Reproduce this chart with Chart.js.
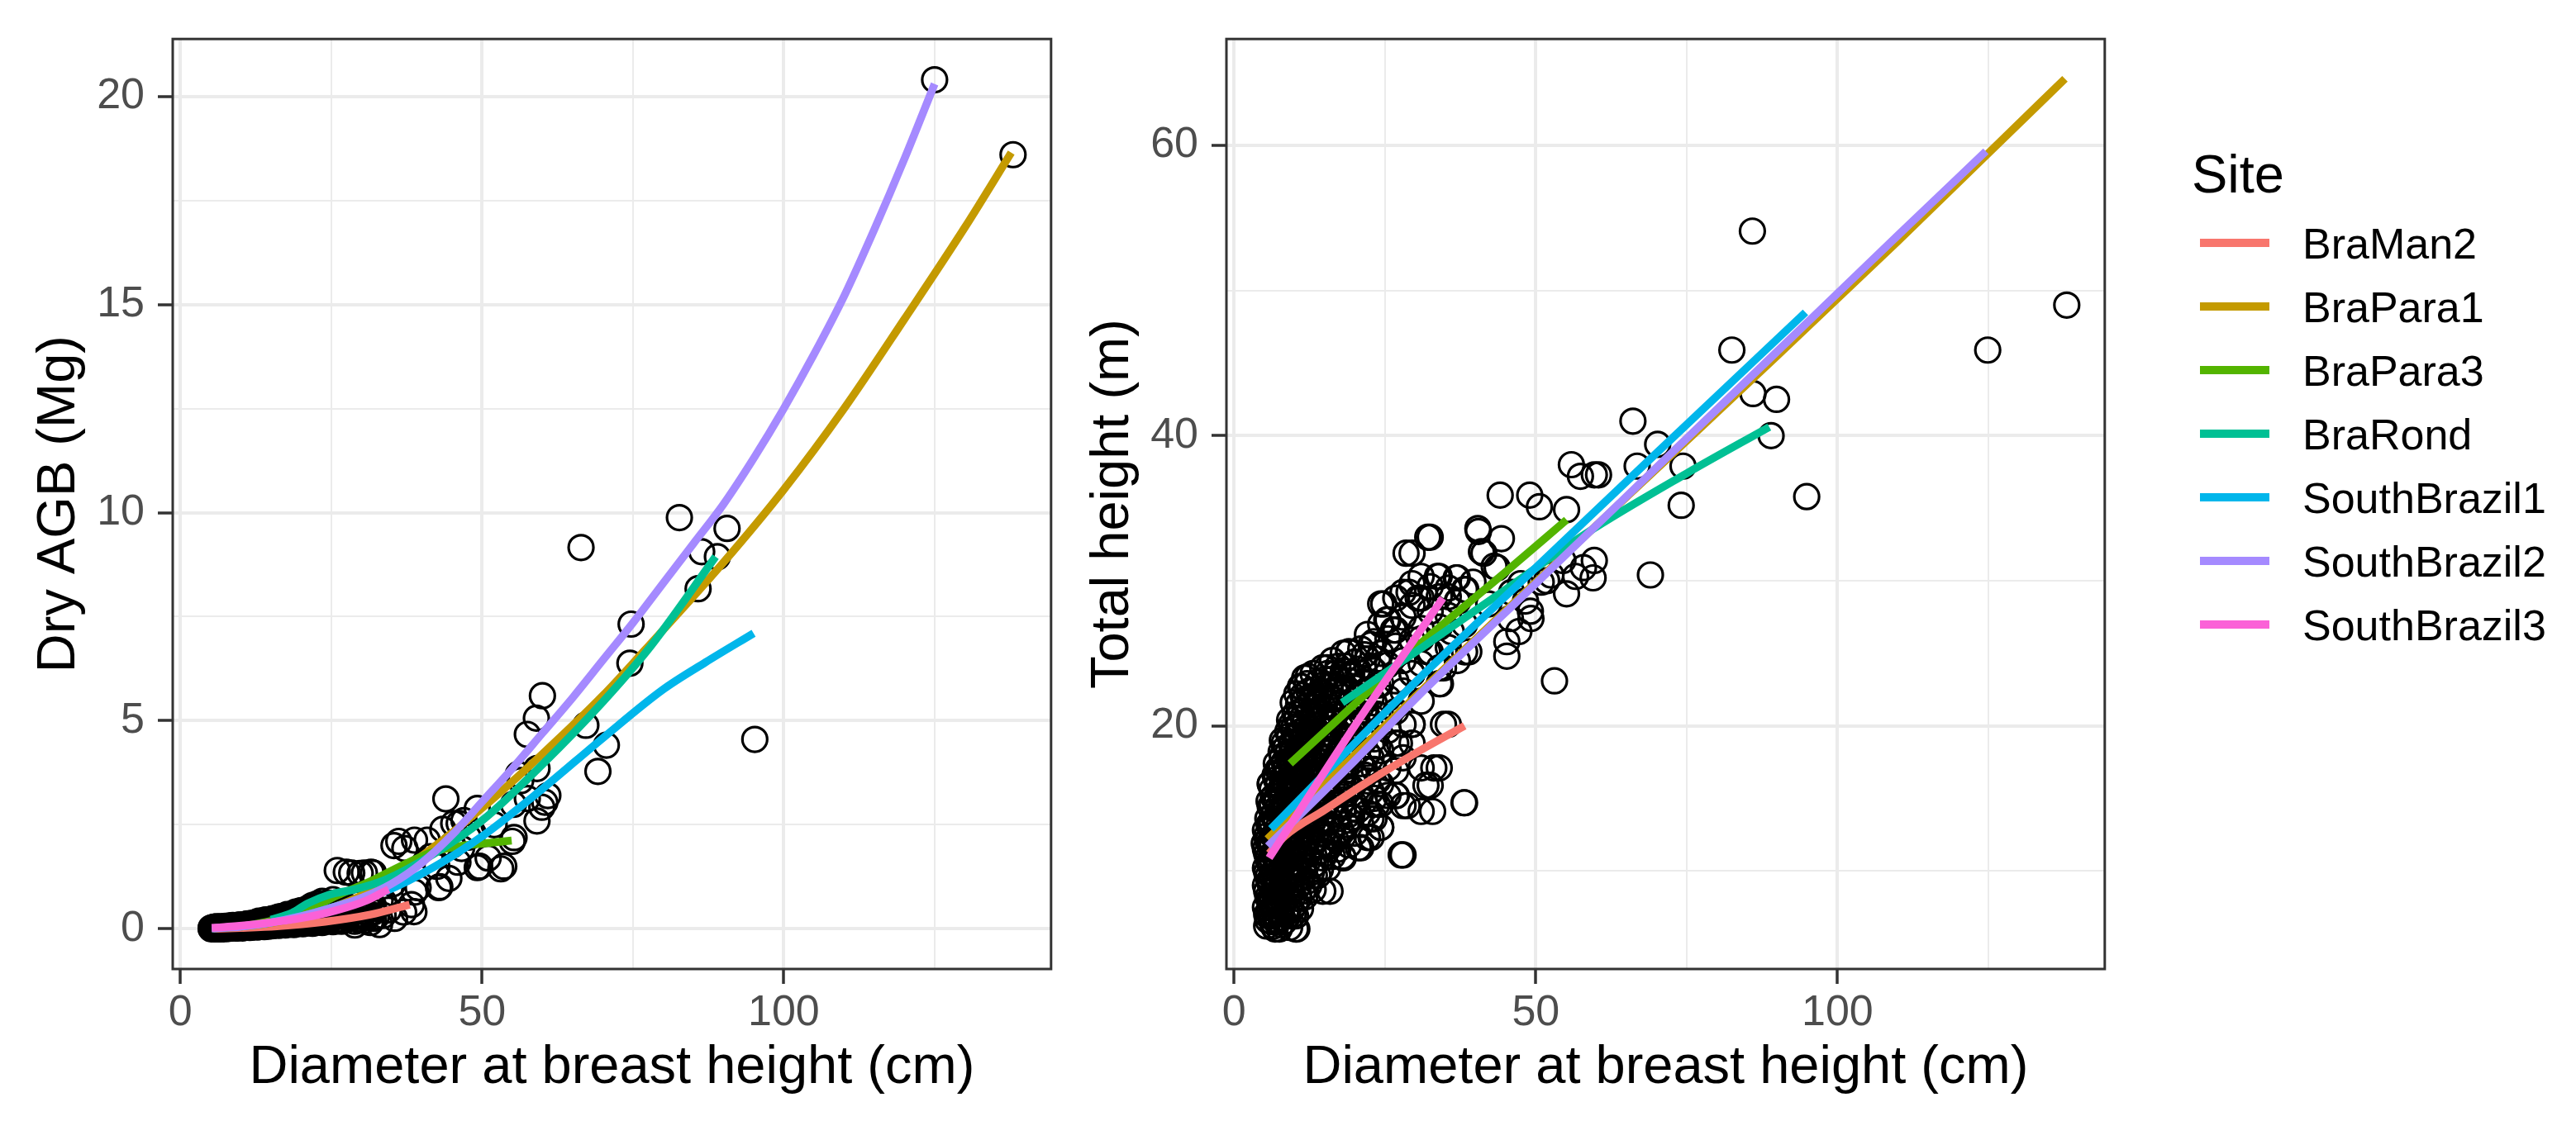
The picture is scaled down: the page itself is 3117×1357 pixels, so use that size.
<!DOCTYPE html>
<html>
<head>
<meta charset="utf-8">
<script src="https://cdn.jsdelivr.net/npm/chart.js@4.4.1/dist/chart.umd.min.js"></script>
<style>
html,body{margin:0;padding:0;background:#fff;}
#wrap{position:relative;width:3117px;height:1357px;overflow:hidden;font-family:'Liberation Sans',Arial,Helvetica,sans-serif;}
#wrap canvas{position:absolute;top:0;}
#cAgb{left:0;}
#cHeight{left:1275px;}
.lg-title{position:absolute;left:2652px;top:178px;font-size:65px;line-height:1;color:#000;}
.lg-key{position:absolute;left:2662px;width:84px;height:9.5px;}
.lg-lab{position:absolute;left:2786px;font-size:52px;line-height:1;color:#000;white-space:nowrap;}
</style>
</head>
<body>
<div id="wrap">
  <canvas id="cAgb" width="1290" height="1357"></canvas>
  <canvas id="cHeight" width="1290" height="1357"></canvas>
  <div id="legend"></div>
</div>
<script>
// ---- sites ----
const siteNames=['BraMan2','BraPara1','BraPara3','BraRond','SouthBrazil1','SouthBrazil2','SouthBrazil3'];
const siteColors=['#F8766D','#C49A00','#53B400','#00C094','#00B6EB','#A58AFF','#FB61D7'];

// ---- axes ----
const xGrid=[0,25,50,75,100,125], xMajor=[0,50,100];
const agbGrid=[0,2.5,5,7.5,10,12.5,15,17.5,20], agbMajor=[0,5,10,15,20];
const hGrid=[10,20,30,40,50,60], hMajor=[20,40,60];

// ---- observed trees, left panel: [dbh, dry AGB] ----
const agbTrees=[
  [138.0,18.6],[125.0,20.4],[95.2,4.55],[90.6,9.62],[89.0,8.94],[86.4,9.06],[85.8,8.17],[82.7,9.88],
  [74.7,7.32],[74.5,6.38],[70.6,4.41],[69.2,3.78],[67.2,4.89],[66.4,9.16],[60.0,5.60],[59.0,5.06],
  [57.5,4.67],[59.1,3.85],[56.0,3.71],[56.4,3.56],[57.5,3.13],[60.9,3.20],[60.4,3.04],[59.9,2.92],
  [59.1,2.59],[55.0,2.10],[55.2,2.99],[55.3,2.19],[53.6,1.50],[53.1,1.44],[49.6,1.50],[49.2,1.47],
  [49.2,2.89],[44.0,3.12],[45.3,2.53],[46.2,2.53],[43.5,2.39],[47.7,2.20],[46.6,1.93],[45.1,2.02],
  [44.5,1.21],[43.0,1.01],[42.8,0.99],[39.4,0.99],[41.4,1.73],[36.2,2.10],[38.8,2.13],[40.9,2.13],
  [37.2,1.93],[35.4,2.00],[42.5,1.50],[47.0,2.60],[48.5,2.30],[46.0,1.60],[52.0,2.50],[51.0,1.70],
  [26.0,1.40],[27.5,1.36],[28.4,1.34],[29.8,1.33],[30.5,1.34],[31.6,1.36],[32.0,1.34],
  [38.3,0.58],[38.8,0.88],[38.7,0.41],[35.2,1.08],[33.1,0.68],[33.6,0.32],[31.5,0.15],[28.9,0.09],
  [30.5,0.20],[32.5,0.30],[34.5,0.45],[33.0,0.10],[35.5,0.25],[37.0,0.40],[33.7,0.65],[32.0,0.48]
];
// dense band of small trees: [dbh, [dry AGB values]]
const agbCloud=[
  [5.1,[0.00,0.02]],[5.4,[0.01,0.03]],[5.6,[0.00,0.04]],[5.8,[0.00,0.02,0.04]],[6.0,[0.01,0.05]],
  [6.2,[0.01,0.03]],[6.4,[0.00,0.04]],[6.6,[0.00,0.02,0.05]],[6.8,[0.01,0.04]],[7.0,[0.01,0.03]],
  [7.2,[0.00,0.05]],[7.5,[0.02,0.04,0.06]],[7.7,[0.01,0.05]],[8.0,[0.01,0.03,0.05]],[8.2,[0.02,0.07]],
  [8.5,[0.02,0.05,0.07]],[8.7,[0.03,0.08]],[9.0,[0.03,0.05]],[9.2,[0.02,0.07]],[9.5,[0.02,0.04,0.08]],
  [9.7,[0.03,0.09]],[10.0,[0.04,0.06,0.09]],[10.3,[0.02,0.08]],[10.6,[0.03,0.06,0.10]],[10.9,[0.04,0.11]],
  [11.2,[0.05,0.08,0.12]],[11.5,[0.03,0.10]],[11.8,[0.04,0.07,0.13]],[12.1,[0.05,0.11]],
  [12.4,[0.06,0.10,0.15]],[12.7,[0.04,0.13]],[13.0,[0.05,0.09,0.14,0.18]],[13.3,[0.07,0.16]],
  [13.6,[0.07,0.12,0.17]],[13.9,[0.05,0.14,0.20]],[14.2,[0.08,0.11,0.16,0.21]],[14.5,[0.06,0.18]],
  [14.8,[0.09,0.14,0.19]],[15.1,[0.07,0.16,0.23]],[15.4,[0.08,0.12,0.18,0.24]],[15.7,[0.10,0.20]],
  [16.0,[0.10,0.15,0.21,0.26]],[16.3,[0.08,0.18,0.28]],[16.7,[0.11,0.17,0.23,0.29]],[17.0,[0.13,0.25]],
  [17.4,[0.09,0.14,0.20,0.27,0.31]],[17.7,[0.11,0.23,0.34]],[18.1,[0.12,0.18,0.24,0.33]],[18.4,[0.15,0.28]],
  [18.8,[0.10,0.16,0.22,0.30,0.37]],[19.1,[0.13,0.26,0.40]],[19.5,[0.13,0.20,0.27,0.35,0.40]],
  [19.9,[0.16,0.30,0.43]],[20.3,[0.12,0.18,0.25,0.33,0.44]],[20.7,[0.14,0.28,0.40]],
  [21.1,[0.15,0.22,0.30,0.38,0.48]],[21.5,[0.18,0.33,0.52]],[21.9,[0.13,0.20,0.28,0.36,0.45,0.56]],
  [22.3,[0.16,0.31,0.50]],[22.7,[0.17,0.25,0.34,0.43,0.60]],[23.1,[0.20,0.38,0.55]],
  [23.5,[0.15,0.23,0.31,0.42,0.52,0.66]],[24.0,[0.18,0.34,0.58]],[24.4,[0.19,0.28,0.38,0.50,0.62]],
  [24.9,[0.22,0.42,0.55]],[25.3,[0.17,0.26,0.36,0.47,0.70]],[25.8,[0.20,0.40,0.62]],
  [26.2,[0.22,0.31,0.43,0.58]],[26.7,[0.18,0.35,0.50]],[27.2,[0.20,0.29,0.40,0.55]],[27.7,[0.30,0.45]],
  [28.3,[0.25,0.35,0.50]],[28.9,[0.18,0.42]],[29.5,[0.22,0.33,0.46,0.60]],[30.1,[0.30,0.52]],
  [30.7,[0.28,0.42]],[31.3,[0.36,0.60]],[32.0,[0.25,0.40,0.55]]
];

// ---- observed trees, right panel: [dbh, total height] ----
const hTrees=[
  [138.0,49.0],[124.9,45.9],[85.9,54.1],[82.5,45.9],[86.0,42.9],[89.9,42.5],[89.0,40.0],[94.9,35.8],
  [66.1,41.0],[66.8,37.9],[70.2,39.4],[74.4,37.9],[74.1,35.2],[69.0,30.4],[55.9,38.0],[57.4,37.2],
  [59.7,37.3],[60.4,37.3],[55.1,34.9],[49.0,35.9],[50.6,35.1],[44.1,35.9],[40.5,33.4],[41.4,31.9],
  [44.3,32.9],[32.1,33.0],[28.5,31.9],[43.6,30.9],[59.7,31.4],[57.9,30.9],[55.1,29.1],[59.5,30.2],
  [53.1,23.1],[45.2,25.8],[45.2,24.8],[49.2,27.4],[51.8,30.0],[48.3,28.6],[54.5,31.4],[56.6,30.3],
  [40.4,33.6],[41.0,32.0],[43.1,31.0],[49.1,27.9],[50.9,29.9],[34.7,20.1],[33.1,17.1],[31.8,15.9],
  [38.1,14.7],[32.9,14.1],[28.7,14.5],[27.7,11.1],[24.3,13.0],[23.7,14.6],[26.9,15.2],[22.7,12.3],
  [24.8,28.4],[29.0,29.2],[33.7,30.3],[36.8,30.2],[38.4,29.4],[37.1,28.6],[25.3,27.3],[26.4,26.6],
  [30.5,28.8],[32.1,25.1],[29.5,23.6],[34.7,24.0],[34.2,22.9],[38.9,25.1],[27.4,18.8],[29.5,20.1],
  [22.7,13.6],[20.6,11.6],[18.0,11.0],[15.9,8.6],[13.3,9.7],[10.2,6.0],[10.2,6.9],[6.0,6.9],
  [5.0,11.9],[6.0,16.0],[9.7,18.2],[11.2,22.7],[12.3,23.4],[15.4,24.0],[19.0,25.1],[21.7,16.6],
  [46.0,29.2],[47.5,29.8],[52.5,30.4],[35.5,28.9],[39.6,29.9],[42.2,28.4],[47.2,26.5],[45.8,27.4],
  [36.0,26.5],[31.0,26.0]
];
// dense cloud of small trees: [dbh, [height values]]
const hCloud=[
  [5.2,[7.5,9.0,10.2,11.5,12.8]],[5.4,[6.2,7.0,8.6,9.9,11.2,12.4]],[5.6,[6.6,8.2,9.6,10.9,12.1,13.6]],
  [5.8,[7.2,8.0,9.3,10.6,11.9,13.2,14.8]],[6.0,[6.9,7.8,9.1,10.4,11.7,13.0,14.4,16.0]],
  [6.3,[6.5,7.1,8.3,9.6,10.8,12.0,13.3,14.6,15.6]],[6.5,[6.2,7.4,8.6,9.9,11.2,12.4,13.8,15.1]],
  [6.8,[6.0,7.0,8.2,9.5,10.9,12.2,13.6,14.9,16.6]],[7.0,[6.5,7.9,9.3,10.7,12.0,13.3,14.7,16.3,17.4]],
  [7.3,[6.6,7.7,9.0,10.3,11.7,13.0,14.4,15.9,17.0]],[7.5,[6.0,7.2,8.5,9.8,11.4,12.7,14.1,15.5,16.8]],
  [7.8,[6.3,7.5,8.8,10.2,11.6,12.9,14.3,15.7,17.2,18.2]],[8.0,[6.8,8.0,9.4,10.8,12.2,13.5,15.0,16.4,17.9,19.0]],
  [8.3,[6.5,7.8,9.1,10.5,11.9,13.2,14.7,16.1,17.5,18.8]],[8.6,[7.3,8.7,10.1,11.6,13.0,14.3,15.8,17.2,18.5]],
  [8.9,[6.9,8.3,9.7,11.1,12.5,13.9,15.3,16.8,18.1,19.6]],[9.2,[6.1,7.6,9.0,10.5,11.9,13.4,14.8,16.1,17.6,19.3,20.4]],
  [9.5,[7.3,8.6,10.0,11.5,12.9,14.3,15.8,17.2,18.7,20.1]],[9.8,[7.0,8.3,9.7,11.2,12.6,14.0,15.4,16.9,18.3,19.8,21.6]],
  [10.1,[7.7,9.2,10.6,12.0,13.5,14.9,16.3,17.8,19.2,20.8]],[10.4,[6.0,8.8,10.3,11.8,13.2,14.6,16.0,17.5,18.9,20.5,22.2]],
  [10.7,[8.1,9.8,11.3,12.7,14.2,15.6,17.1,18.5,20.0,21.5]],[11.0,[7.4,9.5,11.0,12.4,13.9,15.3,16.7,18.1,19.6,21.0,22.7]],
  [11.4,[8.6,10.3,11.9,13.4,14.8,16.3,17.7,19.2,20.6,22.1]],[11.7,[8.2,10.0,11.6,13.1,14.5,15.9,17.4,18.8,20.2,21.8,23.3]],
  [12.1,[9.3,11.1,12.6,14.1,15.6,17.0,18.4,19.9,21.4,22.9]],[12.4,[9.0,10.8,12.3,13.8,15.2,16.6,18.0,19.5,20.9,22.4]],
  [12.8,[9.9,11.6,13.2,14.6,16.1,17.5,19.0,20.4,21.7]],[13.1,[8.7,10.4,12.0,13.4,14.9,16.4,17.8,19.2,20.7,22.0,23.6]],
  [13.5,[10.5,12.2,13.7,15.2,16.7,18.1,19.6,21.0,22.5]],[13.9,[9.7,11.3,12.8,14.3,15.7,17.2,18.6,20.0,21.5,23.0]],
  [14.3,[10.1,11.8,13.5,15.0,16.5,17.9,19.4,20.8,22.3]],[14.7,[8.6,10.9,12.5,14.0,15.5,17.0,18.4,19.9,21.3,22.8,24.0]],
  [15.1,[11.2,12.9,14.6,16.0,17.5,18.9,20.3,21.8,23.2]],[15.5,[10.2,11.8,13.3,16.3,17.8,19.2,20.6,22.1,23.6]],
  [15.9,[11.7,13.5,15.2,17.0,18.4,19.8,21.3,22.7]],[16.3,[11.0,12.8,14.6,16.0,18.9,20.3,21.8,23.2,24.5]],
  [16.8,[12.2,14.1,15.8,17.6,19.2,20.8,22.3,23.6]],[17.2,[11.5,13.6,15.4,17.3,19.6,21.1,22.7,24.1]],
  [17.7,[12.8,14.6,16.4,18.1,19.9,21.6,23.1]],[18.1,[10.9,12.4,14.9,16.8,18.6,20.4,22.3,23.8,25.0]],
  [18.6,[13.2,15.3,17.2,19.1,20.9,22.6,24.1]],[19.0,[11.8,13.9,15.8,17.9,19.7,21.5,23.1,25.1]],
  [19.5,[13.7,15.7,17.8,19.8,21.7,23.6]],[20.0,[12.6,14.6,16.6,18.5,20.4,22.6,24.4]],
  [20.5,[14.2,16.4,18.3,20.2,22.1,23.9]],[21.0,[11.6,13.2,15.3,17.4,19.3,21.3,23.3,25.3]],
  [21.6,[14.8,17.0,19.0,21.1,23.0,24.9]],[22.1,[12.3,14.0,16.2,18.1,20.6,22.5,24.6,26.3]],
  [22.7,[15.5,17.8,19.9,21.9,24.0,25.6]],[23.2,[13.6,15.0,17.0,19.1,21.6,23.8,25.8]],
  [23.8,[16.2,18.6,20.8,22.8,24.6]],[24.3,[13.0,14.6,16.0,18.3,20.7,22.9,25.0,27.0,28.4]],
  [25.5,[15.2,17.1,19.7,21.9,24.2,26.0,27.3]],[26.8,[15.2,16.9,18.8,21.0,23.1,25.5,26.6,28.8]],
  [28.0,[11.1,14.5,17.8,20.1,22.4,24.5,27.5,29.2]],[29.5,[18.8,20.1,23.6,25.9,28.3,29.8,31.9]],
  [31.0,[14.1,17.1,21.7,24.3,26.7,28.8,30.3]],[32.5,[15.9,25.1,27.9,29.6,33.0]],
  [34.0,[17.1,22.9,24.0,26.8,28.9,30.3]],[35.5,[20.1,25.4,27.6,29.5]],[37.0,[24.5,28.6,30.2]],
  [38.2,[14.7,25.1,27.0,29.4]]
];

// ---- fitted curves, left panel (dry AGB) ----
const agbFitBraMan2=[[5.5,0.00],[10,0.02],[16,0.06],[24,0.17],[31.5,0.34],[38,0.58]];
const agbFitBraPara1=[[5.2,0.01],[10,0.05],[15,0.14],[20,0.28],[30,0.80],[40,1.75],[50,2.90],[60,4.20],[70,5.60],[77,6.70],[90,8.80],[100,10.55],[110,12.5],[120,14.65],[130,16.85],[137.7,18.65]];
const agbFitBraPara3=[[10,0.05],[16,0.22],[21,0.45],[26,0.80],[31.5,1.14],[36.7,1.52],[42,1.85],[47,2.00],[51,2.06],[54.9,2.12]];
const agbFitBraRond=[[15,0.22],[18.5,0.38],[21,0.60],[24.7,0.82],[29,0.95],[34,1.18],[42,1.80],[50,2.60],[60,3.95],[70,5.45],[78,6.80],[88.7,8.94]];
const agbFitSouthBrazil1=[[5.2,0.01],[10,0.06],[15,0.15],[20,0.30],[26,0.55],[34,0.90],[42,1.48],[50,2.22],[60,3.36],[70,4.58],[80,5.75],[87,6.40],[95,7.10]];
const agbFitSouthBrazil2=[[5.2,0.01],[10,0.05],[15,0.15],[20,0.30],[25,0.50],[30,0.74],[35,1.08],[40,1.58],[45,2.25],[50,3.05],[55,3.85],[60,4.70],[65,5.55],[70,6.45],[75,7.35],[80,8.30],[85,9.25],[90,10.2],[95,11.3],[100,12.5],[105,13.8],[110,15.2],[115,16.8],[120,18.5],[125,20.3]];
const agbFitSouthBrazil3=[[5.2,0.02],[9,0.06],[13.3,0.12],[17,0.19],[21,0.28],[26,0.45],[31,0.69],[34.5,0.95]];

// ---- fitted curves, right panel (total height) ----
const hFitBraMan2=[[5.8,11.2],[8.4,12.4],[15,14.2],[22,16.1],[30,18.1],[38.2,20.0]];
const hFitBraPara1=[[5.5,12.2],[20,18.0],[35,24.0],[50,29.9],[70,37.7],[90,45.5],[110,53.4],[124.6,59.3],[137.7,64.6]];
const hFitBraPara3=[[9.3,17.4],[20,21.5],[31.5,25.9],[45,30.6],[55.1,34.2]];
const hFitBraRond=[[17.9,21.6],[31.5,25.5],[45,29.4],[58.5,33.3],[75,37.4],[88.7,40.6]];
const hFitSouthBrazil1=[[6.1,12.9],[20,18.8],[31.5,23.6],[50,30.9],[70,38.8],[94.7,48.5]];
const hFitSouthBrazil2=[[5.6,11.7],[20,17.6],[31.6,22.5],[50,29.8],[70,37.8],[90,45.8],[110,53.8],[124.6,59.6]];
const hFitSouthBrazil3=[[5.8,10.9],[20,20.0],[34.6,28.8]];

const agbFits=[agbFitBraMan2,agbFitBraPara1,agbFitBraPara3,agbFitBraRond,agbFitSouthBrazil1,agbFitSouthBrazil2,agbFitSouthBrazil3];
const hFits=[hFitBraMan2,hFitBraPara1,hFitBraPara3,hFitBraRond,hFitSouthBrazil1,hFitSouthBrazil2,hFitSouthBrazil3];

const FONT="'Liberation Sans', Arial, Helvetica, sans-serif";
const X_LIM=[-1.27,144.3];

const toXY=pts=>pts.map(([x,y])=>({x,y}));
const cloudXY=cloud=>cloud.flatMap(([x,ys])=>ys.map(y=>({x,y})));

function obsSet(trees,cloud){
  return {label:'obs',data:[...cloudXY(cloud),...toXY(trees)],showLine:false,
    pointRadius:15,pointHoverRadius:15,pointBorderWidth:3.2,pointBorderColor:'#000',
    pointBackgroundColor:'rgba(0,0,0,0)',order:50};
}
function fitSets(fits){
  return fits.map((pts,i)=>({label:siteNames[i],data:toXY(pts),showLine:true,
    borderColor:siteColors[i],backgroundColor:siteColors[i],borderWidth:9.5,
    pointRadius:0,pointHoverRadius:0,cubicInterpolationMode:'monotone',order:siteNames.length-i}));
}

function gridOpts(major){
  return {color:'#EBEBEB',lineWidth:c=>major.includes(c.tick&&c.tick.value)?4:2,
    drawTicks:true,tickLength:18,tickWidth:3.5,
    tickColor:c=>major.includes(c.tick&&c.tick.value)?'#333333':'rgba(0,0,0,0)'};
}
function axisX(){
  return {type:'linear',position:'bottom',min:X_LIM[0],max:X_LIM[1],
    afterBuildTicks:s=>{s.ticks=xGrid.map(v=>({value:v}));},
    afterFit:s=>{s.height=184;},
    border:{display:false},grid:gridOpts(xMajor),
    ticks:{autoSkip:false,maxRotation:0,padding:4,color:'#4D4D4D',font:{size:52,family:FONT},
      callback:v=>xMajor.includes(v)?String(v):''},
    title:{display:true,text:'Diameter at breast height (cm)',color:'#000',font:{size:65,family:FONT},padding:{top:0,bottom:25}}};
}
function axisY(grid,major,lim,title){
  return {type:'linear',position:'left',min:lim[0],max:lim[1],
    afterBuildTicks:s=>{s.ticks=grid.map(v=>({value:v}));},
    afterFit:s=>{s.width=209;},
    border:{display:false},grid:gridOpts(major),
    ticks:{autoSkip:false,padding:16,color:'#4D4D4D',font:{size:52,family:FONT},
      callback:v=>major.includes(v)?String(v):''},
    title:{display:true,text:title,color:'#000',font:{size:65,family:FONT},padding:{top:33,bottom:0}}};
}

const panelBorder={id:'panelBorder',afterDraw(chart){
  const {ctx,chartArea:a}=chart;
  ctx.save();ctx.strokeStyle='#333333';ctx.lineWidth=3;
  ctx.strokeRect(a.left,a.top,a.right-a.left,a.bottom-a.top);ctx.restore();
}};

function makeChart(id,trees,cloud,fits,yGrid,yMajor,yLim,yTitle){
  return new Chart(document.getElementById(id),{
    type:'scatter',
    data:{datasets:[...fitSets(fits),obsSet(trees,cloud)]},
    options:{responsive:false,devicePixelRatio:1,animation:false,events:[],
      layout:{padding:{top:41,right:13,bottom:0,left:0}},
      plugins:{legend:{display:false},tooltip:{enabled:false}},
      scales:{x:axisX(),y:axisY(yGrid,yMajor,yLim,yTitle)}},
    plugins:[panelBorder]
  });
}

makeChart('cAgb',agbTrees,agbCloud,agbFits,agbGrid,agbMajor,[-0.967,21.38],'Dry AGB (Mg)');
makeChart('cHeight',hTrees,hCloud,hFits,hGrid,hMajor,[3.24,67.34],'Total height (m)');

// ---- shared legend ----
(function(){
  const lg=document.getElementById('legend');
  const t=document.createElement('div');t.className='lg-title';t.textContent='Site';lg.appendChild(t);
  siteNames.forEach((name,i)=>{
    const cy=294+i*77;
    const k=document.createElement('div');k.className='lg-key';
    k.style.top=(cy-4.75)+'px';k.style.background=siteColors[i];lg.appendChild(k);
    const l=document.createElement('div');l.className='lg-lab';
    l.style.top=(cy-25.4)+'px';l.textContent=name;lg.appendChild(l);
  });
})();
</script>
</body>
</html>
